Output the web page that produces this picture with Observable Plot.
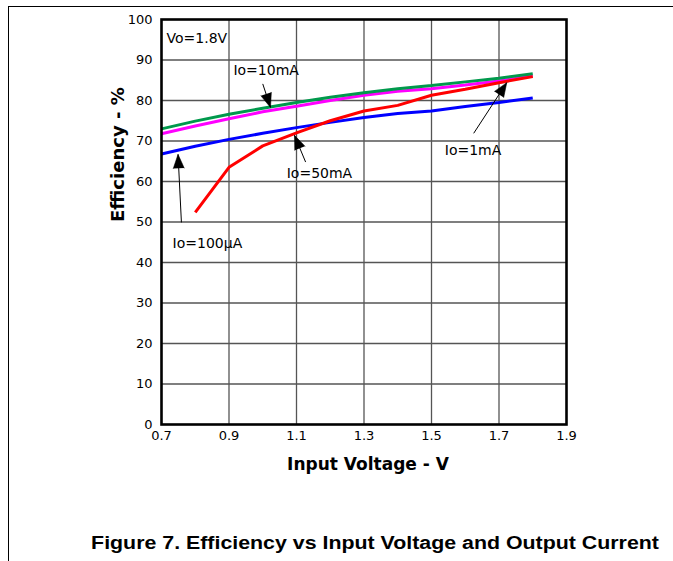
<!DOCTYPE html>
<html>
<head>
<meta charset="utf-8">
<script src="https://cdn.jsdelivr.net/npm/d3@7"></script>
<script src="https://cdn.jsdelivr.net/npm/@observablehq/plot@0.6"></script>
<style>
  body { margin: 0; background: white; }
  #wrap { position: relative; width: 673px; height: 561px; overflow: hidden; background: white; }
  #box { position: absolute; left: 8px; top: 6px; width: 680px; height: 600px;
         border-left: 1.5px solid #000; border-top: 1.5px solid #000; pointer-events: none; z-index: 2; }
  #caption { position: absolute; left: 374.5px; top: 533px; transform: translateX(-50%) scaleX(1.22);
             transform-origin: center; white-space: nowrap; font-family: "Liberation Sans", Arial, sans-serif;
             font-weight: bold; font-size: 17.5px; color: #000; }
</style>
</head>
<body>
<div id="wrap">
  <div id="chart"></div>
  <div id="box"></div>
  <div id="caption">Figure 7. Efficiency vs Input Voltage and Output Current</div>
</div>
<script>
// ---- Data ----
const voltage = [0.7, 0.8, 0.9, 1.0, 1.1, 1.2, 1.3, 1.4, 1.5, 1.6, 1.7, 1.8];
const eff10mA  = [73.0, 74.9, 76.6, 78.1, 79.5, 80.8, 81.9, 82.9, 83.7, 84.6, 85.5, 86.6];
const eff1mA   = [71.8, 73.7, 75.5, 77.2, 78.6, 80.0, 81.3, 82.3, 82.9, 83.8, 84.8, 86.1];
const eff100uA = [66.8, 68.7, 70.4, 71.9, 73.3, 74.6, 75.8, 76.8, 77.4, 78.5, 79.5, 80.6];
const voltage50 = [0.8, 0.9, 1.0, 1.1, 1.2, 1.3, 1.4, 1.5, 1.6, 1.7, 1.8];
const eff50mA  = [52.4, 63.5, 68.8, 72.0, 75.0, 77.4, 78.8, 81.3, 82.8, 84.4, 85.9];

const xTicks = [0.7, 0.9, 1.1, 1.3, 1.5, 1.7, 1.9];
const yTicks = [0, 10, 20, 30, 40, 50, 60, 70, 80, 90, 100];

// condition label (top-left) and curve annotations: label position + arrow tail/tip (data units)
const condition = [{text: "Vo=1.8V", x: 0.715, y: 95.3}];
const notes = [
  {text: "Io=10mA",  x: 1.010, y: 87.4, x1: 1.000, y1: 84.1, x2: 1.023, y2: 78.3},
  {text: "Io=50mA",  x: 1.168, y: 62.0, x1: 1.127, y1: 64.8, x2: 1.094, y2: 71.4},
  {text: "Io=1mA",   x: 1.623, y: 67.6, x1: 1.625, y1: 71.9, x2: 1.723, y2: 84.4},
  {text: "Io=100µA", x: 0.836, y: 44.8, x1: 0.759, y1: 49.9, x2: 0.749, y2: 66.7}
];

const series = [
  {name: "Io=100µA", color: "#0000ff", xs: voltage, ys: eff100uA},
  {name: "Io=1mA",   color: "#ff00ff", xs: voltage, ys: eff1mA},
  {name: "Io=10mA",  color: "#00994c", xs: voltage, ys: eff10mA},
  {name: "Io=50mA",  color: "#ff0000", xs: voltage50, ys: eff50mA}
];
const rows = series.flatMap(s => s.xs.map((v, i) => ({series: s.name, color: s.color, v, e: s.ys[i]})));

// ---- Layout ----
const W = 673, H = 500, ML = 161, MR = 107, MT = 19, MB = 76;
const xDom = [0.7, 1.9], yDom = [0, 100];
const kx = (W - ML - MR) / (xDom[1] - xDom[0]);
const ky = (H - MT - MB) / (yDom[1] - yDom[0]);
const arrows = notes.map(n => ({
  ...n,
  rot: Math.atan2((n.x2 - n.x1) * kx, (n.y2 - n.y1) * ky) * 180 / Math.PI
}));

const plot = Plot.plot({
  width: W, height: H,
  marginLeft: ML, marginRight: MR, marginTop: MT, marginBottom: MB,
  style: {fontFamily: "DejaVu Sans, sans-serif", fontSize: "13px", color: "#000", background: "transparent"},
  x: {domain: xDom},
  y: {domain: yDom},
  marks: [
    Plot.gridX(xTicks.slice(1, -1), {stroke: "#555", strokeOpacity: 1, strokeWidth: 1.3}),
    Plot.gridY(yTicks.slice(1, -1), {stroke: "#555", strokeOpacity: 1, strokeWidth: 1.3}),
    Plot.axisX(xTicks, {tickSize: 0, tickPadding: 6, tickFormat: d3.format(".1f"), label: null, fontSize: 13}),
    Plot.axisY(yTicks, {tickSize: 0, tickPadding: 9, label: null, fontSize: 13}),
    Plot.line(rows, {x: "v", y: "e", z: "series", stroke: "color", strokeWidth: 3, strokeLinejoin: "miter", strokeLinecap: "butt"}),
    Plot.frame({stroke: "#000", strokeWidth: 2.6}),
    Plot.link(arrows, {x1: "x1", y1: "y1", x2: "x2", y2: "y2", stroke: "#000", strokeWidth: 1}),
    Plot.vector(arrows, {x: "x2", y: "y2", rotate: "rot", length: 14, r: 5.5, shape: "spike", anchor: "end", fill: "#000", stroke: "#000", strokeWidth: 0.5}),
    Plot.text(condition, {x: "x", y: "y", text: "text", textAnchor: "start", fontSize: 14, fill: "#000"}),
    Plot.text(notes, {x: "x", y: "y", text: "text", textAnchor: "middle", fontSize: 14, fill: "#000"}),
    Plot.text(["Input Voltage - V"], {frameAnchor: "bottom", dx: 4, dy: 45, fontSize: 17, fontWeight: "bold", fill: "#000"}),
    Plot.text(["Efficiency - %"], {frameAnchor: "left", dx: -43, rotate: -90, fontSize: 18, fontWeight: "bold", fill: "#000"})
  ]
});
document.getElementById("chart").appendChild(plot);
</script>
</body>
</html>
